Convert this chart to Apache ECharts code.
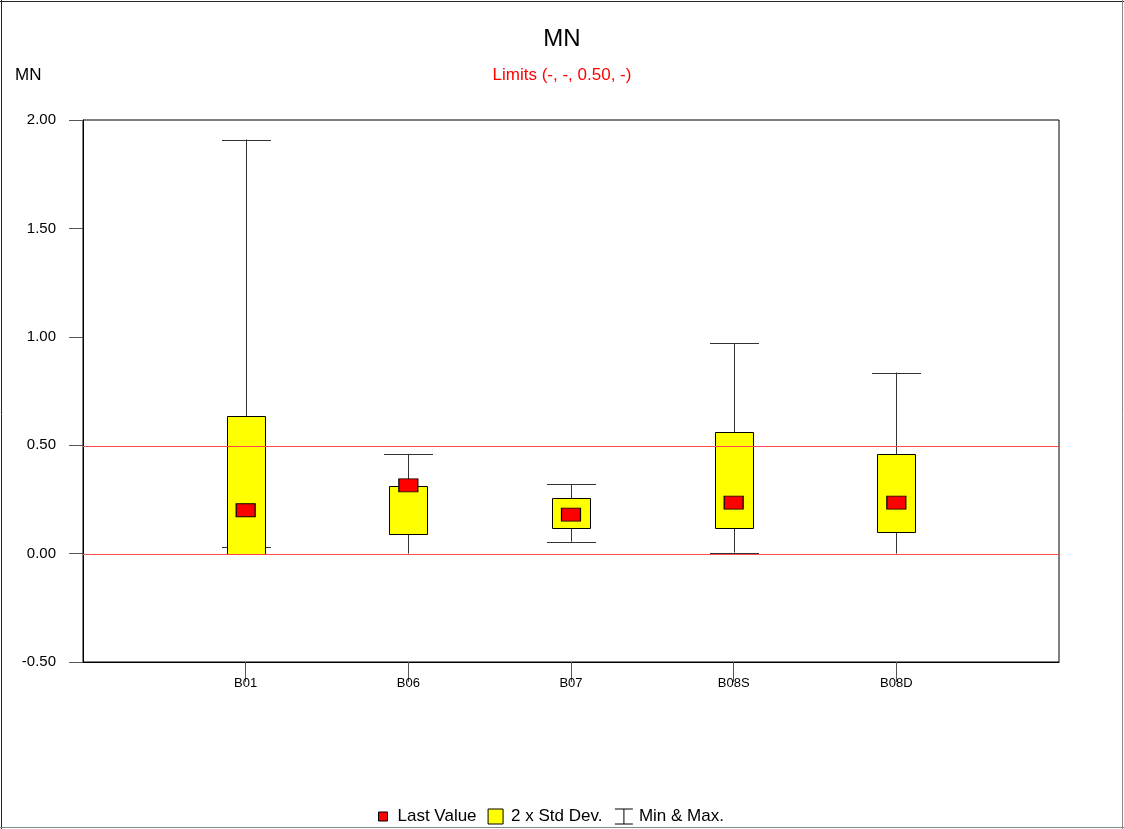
<!DOCTYPE html>
<html>
<head>
<meta charset="utf-8">
<script src="https://cdn.jsdelivr.net/npm/echarts@6/dist/echarts.min.js"></script>
<style>
html,body{margin:0;padding:0;background:#fff;}
#chart{width:1124px;height:829px;}
</style>
</head>
<body>
<div id="chart"></div>
<script>
const categories = ['B01', 'B06', 'B07', 'B08S', 'B08D'];
const maxValues = [1.91, 0.46, 0.32, 0.97, 0.835];
const minValues = [0.03, 0.0, 0.055, 0.005, 0.0];
const stdLow = [0.0, 0.09, 0.12, 0.12, 0.10];
const stdHigh = [0.635, 0.31, 0.255, 0.56, 0.46];
const lastValues = [0.20, 0.315, 0.18, 0.235, 0.235];
const limitLines = [0.0, 0.5];
const yTicks = [-0.5, 0, 0.5, 1.0, 1.5, 2.0];

const FONT = '"Liberation Sans", Arial, sans-serif';
const axisCats = [''].concat(categories, ['']);

const whiskerData = categories.map((c, i) => [c, minValues[i], maxValues[i]]);
const boxData = categories.map((c, i) => [c, stdLow[i], stdHigh[i]]);
const lastData = categories.map((c, i) => [c, lastValues[i]]);
const limitData = limitLines.map(v => [0, v]);

const chart = echarts.init(document.getElementById('chart'), null, {renderer: 'canvas'});

const option = {
  backgroundColor: '#fff',
  animation: false,
  title: [
    {text: 'MN', left: 'center', top: 22, textStyle: {fontFamily: FONT, fontSize: 24, fontWeight: 'normal', color: '#000'}},
    {text: 'Limits (-, -, 0.50, -)', left: 'center', top: 62, textStyle: {fontFamily: FONT, fontSize: 17, fontWeight: 'normal', color: '#ff0000'}},
    {text: 'MN', left: 10, top: 62, textStyle: {fontFamily: FONT, fontSize: 17, fontWeight: 'normal', color: '#000'}}
  ],
  grid: {left: 83, right: 65, top: 120, bottom: 167, show: true, borderColor: '#000', borderWidth: 1, backgroundColor: 'transparent'},
  legend: {
    top: 801,
    left: 367,
    itemWidth: 20,
    itemHeight: 16,
    itemGap: 9,
    selectedMode: false,
    textStyle: {fontFamily: FONT, fontSize: 17, color: '#000'},
    data: [
      {name: 'Last Value', icon: 'path://M0,0M6,3.5h9v9h-9zM20,16', itemStyle: {color: '#ff0000', borderColor: '#000', borderWidth: 1}},
      {name: '2 x Std Dev.', icon: 'path://M0,0M2,0.5h15v15h-15zM20,16', itemStyle: {color: '#ffff00', borderColor: '#000', borderWidth: 1}},
      {name: 'Min & Max.', icon: 'path://M0,0M1,0.5h18M10,0.5v15M1,15.5h18M20,16', itemStyle: {color: 'none', borderColor: '#000', borderWidth: 1}}
    ]
  },
  xAxis: {
    type: 'category',
    data: axisCats,
    boundaryGap: false,
    axisLine: {show: true, onZero: false, lineStyle: {color: '#000', width: 1}},
    axisTick: {show: true, length: 20, interval: (idx) => idx > 0 && idx < axisCats.length - 1, lineStyle: {color: '#555'}},
    axisLabel: {show: true, interval: 0, margin: 15, fontFamily: FONT, fontSize: 13, color: '#000'},
    splitLine: {show: false}
  },
  yAxis: {
    type: 'value',
    min: yTicks[0],
    max: yTicks[yTicks.length - 1],
    interval: 0.5,
    axisLine: {show: true, lineStyle: {color: '#000', width: 1}},
    axisTick: {show: true, length: 14, lineStyle: {color: '#555'}},
    axisLabel: {margin: 27, fontFamily: FONT, fontSize: 15, color: '#000', formatter: (v) => v.toFixed(2)},
    splitLine: {show: false},
    splitArea: {show: false}
  },
  series: [
    {
      name: 'Min & Max.',
      type: 'custom',
      z: 2,
      itemStyle: {color: '#000'},
      data: whiskerData,
      encode: {x: 0, y: [1, 2]},
      renderItem: function (params, api) {
        const x = api.value(0);
        const pMin = api.coord([x, api.value(1)]);
        const pMax = api.coord([x, api.value(2)]);
        const cx = Math.round(pMin[0]) + 0.5;
        const half = 24.5;
        const st = {stroke: '#333', lineWidth: 1};
        return {
          type: 'group',
          children: [
            {type: 'line', shape: {x1: cx, y1: pMin[1], x2: cx, y2: pMax[1]}, style: st},
            {type: 'line', shape: {x1: cx - half, y1: Math.round(pMin[1]) + 0.5, x2: cx + half, y2: Math.round(pMin[1]) + 0.5}, style: st},
            {type: 'line', shape: {x1: cx - half, y1: Math.round(pMax[1]) + 0.5, x2: cx + half, y2: Math.round(pMax[1]) + 0.5}, style: st}
          ]
        };
      }
    },
    {
      name: '2 x Std Dev.',
      type: 'custom',
      z: 3,
      itemStyle: {color: '#ffff00'},
      data: boxData,
      encode: {x: 0, y: [1, 2]},
      renderItem: function (params, api) {
        const x = api.value(0);
        const pLo = api.coord([x, api.value(1)]);
        const pHi = api.coord([x, api.value(2)]);
        const cx = Math.round(pLo[0]) + 0.5;
        const w = 38;
        const top = Math.round(pHi[1]) + 0.5;
        const bot = Math.round(pLo[1]) + 0.5;
        return {
          type: 'rect',
          shape: {x: cx - w / 2, y: top, width: w, height: bot - top},
          style: {fill: '#ffff00', stroke: '#000', lineWidth: 1}
        };
      }
    },
    {
      name: 'Last Value',
      type: 'scatter',
      z: 4,
      symbol: 'rect',
      symbolSize: [19, 13],
      itemStyle: {color: '#ff0000', borderColor: '#000', borderWidth: 1, opacity: 1},
      data: lastData
    },
    {
      name: 'limits',
      type: 'custom',
      z: 10,
      silent: true,
      data: limitData,
      encode: {x: 0, y: 1},
      renderItem: function (params, api) {
        const cs = params.coordSys;
        const p = api.coord([api.value(0), api.value(1)]);
        const y = Math.ceil(p[1]) + 0.5;
        return {
          type: 'line',
          shape: {x1: cs.x, y1: y, x2: cs.x + cs.width, y2: y},
          style: {stroke: '#ff4a4a', lineWidth: 1, opacity: 1}
        };
      }
    }
  ],
  graphic: [
    {type: 'line', shape: {x1: 0, y1: 1.5, x2: 1124, y2: 1.5}, style: {stroke: '#222', lineWidth: 1}, silent: true},
    {type: 'line', shape: {x1: 1.5, y1: 0, x2: 1.5, y2: 829}, style: {stroke: '#222', lineWidth: 1}, silent: true},
    {type: 'line', shape: {x1: 1122.5, y1: 0, x2: 1122.5, y2: 829}, style: {stroke: '#888', lineWidth: 1}, silent: true},
    {type: 'line', shape: {x1: 0, y1: 827.5, x2: 1124, y2: 827.5}, style: {stroke: '#888', lineWidth: 1}, silent: true}
  ]
};
chart.setOption(option);
</script>
</body>
</html>
